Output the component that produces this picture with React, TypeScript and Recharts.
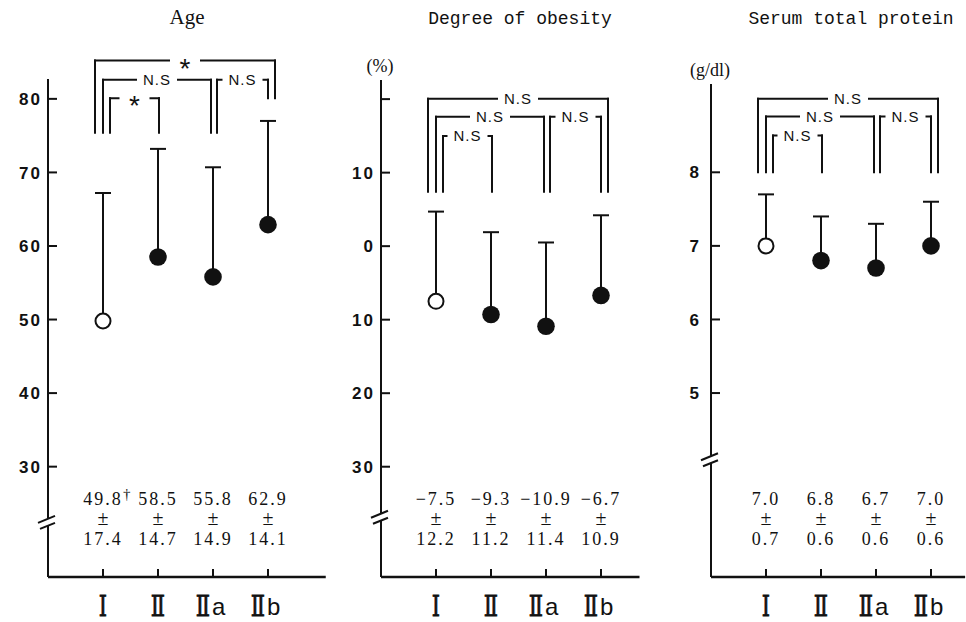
import React from "react";
import {
  ComposedChart,
  Scatter,
  ErrorBar,
  XAxis,
  YAxis,
  ReferenceLine,
  ReferenceDot,
} from "recharts";

// groups on the x axis
const groups = ["Ⅰ", "Ⅱ", "Ⅱa", "Ⅱb"];

// Age
const ageMean = [49.8, 58.5, 55.8, 62.9];
const ageSD = [17.4, 14.7, 14.9, 14.1];
const ageNotes = ["†", "", "", ""];
const ageTicks = [30, 40, 50, 60, 70, 80];
const ageTickLabels = ["30", "40", "50", "60", "70", "80"];
const ageTests = [["Ⅰ", "Ⅱb", "*"], ["Ⅰ", "Ⅱa", "N.S"], ["Ⅰ", "Ⅱ", "*"], ["Ⅱa", "Ⅱb", "N.S"]];
const ageTestTop = [85.2, 82.6, 80.1, 82.6];
const ageTestFeet = [[75.4, 80.1], [75.4, 75.4], [75.4, 75.4], [75.4, 80.1]];

// Degree of obesity (%)
const obesityMean = [-7.5, -9.3, -10.9, -6.7];
const obesitySD = [12.2, 11.2, 11.4, 10.9];
const obesityTicks = [-30, -20, -10, 0, 10, 20];
const obesityTickLabels = ["30", "20", "10", "0", "10", ""];
const obesityTests = [["Ⅰ", "Ⅱb", "N.S"], ["Ⅰ", "Ⅱa", "N.S"], ["Ⅰ", "Ⅱ", "N.S"], ["Ⅱa", "Ⅱb", "N.S"]];
const obesityTestTop = [20.05, 17.6, 15.0, 17.6];
const obesityTestFeet = [[7.4, 7.4], [7.4, 7.4], [7.4, 7.4], [7.4, 7.4]];

// Serum total protein (g/dl)
const proteinMean = [7.0, 6.8, 6.7, 7.0];
const proteinSD = [0.7, 0.6, 0.6, 0.6];
const proteinTicks = [5, 6, 7, 8];
const proteinTickLabels = ["5", "6", "7", "8"];
const proteinTests = [["Ⅰ", "Ⅱb", "N.S"], ["Ⅰ", "Ⅱa", "N.S"], ["Ⅰ", "Ⅱ", "N.S"], ["Ⅱa", "Ⅱb", "N.S"]];
const proteinTestTop = [9.0, 8.76, 8.5, 8.76];
const proteinTestFeet = [[8.0, 8.0], [8.0, 8.0], [8.0, 8.0], [8.0, 8.0]];

const INK = "#111";
const STEP = 55; // px between groups
const AXIS_Y = 577;
const H = 622;
// px shift of bracket legs so nested brackets don't overlap
const NUDGE = [[-8, 7], [0, -2], [7, 1], [4, 0]];

const fmt = (v: number) => v.toFixed(1).replace("-", "−");

function Marker(props: any) {
  const { cx, cy, payload } = props;
  if (payload.open)
    return <circle cx={cx} cy={cy} r={7.5} fill="#fff" stroke={INK} strokeWidth={2} />;
  return <circle cx={cx} cy={cy} r={8.8} fill={INK} />;
}

function BreakMark(props: any) {
  const { cx, cy } = props;
  return (
    <g stroke={INK} strokeWidth={2}>
      <line x1={cx - 10} y1={cy + 1} x2={cx + 7} y2={cy - 6} />
      <line x1={cx - 8} y1={cy + 7} x2={cx + 7} y2={cy + 1} />
    </g>
  );
}

function BracketLabel({ cx, cy, text }: any) {
  const star = text === "*";
  const w = star ? 30 : 40;
  return (
    <g>
      <rect x={cx - w / 2} y={cy - 4} width={w} height={8} fill="#fff" />
      {star ? (
        <text x={cx} y={cy + 17} textAnchor="middle" fontFamily="Liberation Sans" fontSize={28} fill={INK}>
          *
        </text>
      ) : (
        <text x={cx} y={cy} dy="0.36em" textAnchor="middle" fontFamily="Liberation Sans" fontSize={15} letterSpacing={1} fill={INK}>
          {text}
        </text>
      )}
    </g>
  );
}

type PanelProps = {
  means: number[];
  sds: number[];
  notes?: string[];
  ticks: number[];
  tickLabels: string[];
  tests: string[][];
  tops: number[];
  feet: number[][];
  domain: [number, number];
  breakAt: number;
  unit?: string;
  left: number;
  width: number;
  plotLeft: number;
  plotTop: number;
  xMax: number;
  tickGap: number;
};

function Panel(p: PanelProps) {
  const rows = p.means.map((m, i) => ({ x: i + 1, y: m, err: [0, p.sds[i]], open: i === 0 }));
  const plotH = AXIS_Y - p.plotTop;
  const pxPerUnit = plotH / (p.domain[1] - p.domain[0]);
  const gap = 3.5 / pxPerUnit;
  const plotW = p.xMax * STEP;
  const margin = {
    top: p.plotTop,
    left: p.plotLeft - 40,
    right: p.width - p.plotLeft - plotW,
    bottom: H - AXIS_Y - 30,
  };

  const XTick = (t: any) => {
    const { x, y, payload } = t;
    const i = payload.value - 1;
    const label = groups[i];
    const suffix = label.slice(1);
    const note = p.notes ? p.notes[i] : "";
    const nx = suffix ? x - 10 : x;
    return (
      <g fill={INK}>
        <line x1={x} x2={x} y1={y - 8} y2={y} stroke={INK} strokeWidth={2} />
        <text x={x} y={y - 72} textAnchor="middle" fontFamily="Liberation Serif" fontSize={18} letterSpacing={2}>
          {fmt(p.means[i])}
        </text>
        {note ? (
          <text x={x + 20} y={y - 78} fontFamily="Liberation Serif" fontSize={15}>
            {note}
          </text>
        ) : null}
        <text x={x} y={y - 52} textAnchor="middle" fontFamily="Liberation Serif" fontSize={20}>
          ±
        </text>
        <text x={x} y={y - 32} textAnchor="middle" fontFamily="Liberation Serif" fontSize={18} letterSpacing={2}>
          {p.sds[i].toFixed(1)}
        </text>
        <text
          x={nx}
          y={y + 39}
          textAnchor="middle"
          fontFamily="DejaVu Serif"
          fontSize={28}
          stroke={INK}
          strokeWidth={0.8}
          transform={`translate(${nx},0) scale(0.75,1) translate(${-nx},0)`}
        >
          {label[0]}
        </text>
        {suffix ? (
          <text x={nx + 9} y={y + 38} fontFamily="Liberation Sans" fontSize={24}>
            {suffix}
          </text>
        ) : null}
      </g>
    );
  };

  const YTick = (t: any) => {
    const { x, y, payload } = t;
    const idx = p.ticks.indexOf(payload.value);
    return (
      <g>
        <line x1={x} x2={x + 9} y1={y} y2={y} stroke={INK} strokeWidth={2} />
        <text x={x - p.tickGap + 2} y={y} dy="0.36em" textAnchor="end" fontFamily="Liberation Sans" fontWeight="bold" fontSize={17} letterSpacing={2} fill={INK}>
          {p.tickLabels[idx]}
        </text>
      </g>
    );
  };

  const UnitLabel = (l: any) => {
    const vb = l.viewBox || {};
    if (!p.unit) return null;
    return (
      <text x={vb.x + vb.width - 1} y={vb.y - 8} textAnchor="middle" fontFamily="Liberation Serif" fontSize={18} fill={INK}>
        {p.unit}
      </text>
    );
  };

  const line = { stroke: INK, strokeWidth: 2, ifOverflow: "visible" as const };

  return (
    <div style={{ position: "absolute", left: p.left, top: 0 }}>
      <ComposedChart width={p.width} height={H} margin={margin} data={rows}>
        <XAxis
          type="number"
          dataKey="x"
          domain={[0, p.xMax]}
          ticks={[1, 2, 3, 4]}
          interval={0}
          height={30}
          tickSize={0}
          tickMargin={0}
          tickLine={false}
          axisLine={{ stroke: INK, strokeWidth: 2.5 }}
          tick={XTick}
          allowDataOverflow
        />
        <YAxis
          type="number"
          dataKey="y"
          domain={p.domain}
          ticks={p.ticks}
          interval={0}
          width={40}
          tickSize={0}
          tickMargin={0}
          tickLine={false}
          axisLine={false}
          tick={YTick}
          allowDataOverflow
          label={UnitLabel}
        />
        <ReferenceLine segment={[{ x: 0, y: p.domain[0] }, { x: 0, y: p.breakAt - gap }]} {...line} />
        <ReferenceLine segment={[{ x: 0, y: p.breakAt + gap }, { x: 0, y: p.domain[1] }]} {...line} />
        <ReferenceDot x={0} y={p.breakAt} r={0} ifOverflow="visible" shape={BreakMark} />
        {p.tests.map((t, k) => {
          const xl = groups.indexOf(t[0]) + 1 + NUDGE[k][0] / STEP;
          const xr = groups.indexOf(t[1]) + 1 + NUDGE[k][1] / STEP;
          const top = p.tops[k];
          return (
            <React.Fragment key={k}>
              <ReferenceLine segment={[{ x: xl, y: p.feet[k][0] }, { x: xl, y: top }]} {...line} strokeLinecap="square" />
              <ReferenceLine segment={[{ x: xl, y: top }, { x: xr, y: top }]} {...line} strokeLinecap="square" />
              <ReferenceLine segment={[{ x: xr, y: top }, { x: xr, y: p.feet[k][1] }]} {...line} strokeLinecap="square" />
              <ReferenceDot
                x={(xl + xr) / 2}
                y={top}
                r={0}
                ifOverflow="visible"
                shape={(s: any) => <BracketLabel cx={s.cx} cy={s.cy} text={t[2]} />}
              />
            </React.Fragment>
          );
        })}
        <Scatter data={rows} shape={() => <g />} isAnimationActive={false}>
          <ErrorBar dataKey="err" direction="y" width={8} stroke={INK} strokeWidth={2} />
        </Scatter>
        <Scatter data={rows} shape={Marker} isAnimationActive={false} />
      </ComposedChart>
    </div>
  );
}

const titleStyle = (center: number, w: number, font: string, size: number, top: number): React.CSSProperties => ({
  position: "absolute",
  left: center - w / 2,
  width: w,
  top,
  textAlign: "center",
  fontFamily: font,
  fontSize: size,
  lineHeight: "20px",
  color: INK,
  whiteSpace: "nowrap",
});

export default function App() {
  return (
    <div style={{ position: "absolute", left: 0, top: 0, width: 966, height: H, background: "#fff", overflow: "hidden" }}>
      <Panel
        means={ageMean}
        sds={ageSD}
        notes={ageNotes}
        ticks={ageTicks}
        tickLabels={ageTickLabels}
        tests={ageTests}
        tops={ageTestTop}
        feet={ageTestFeet}
        domain={[15, 82.7]}
        breakAt={22.5}
        left={0}
        width={340}
        plotLeft={48}
        plotTop={79}
        xMax={5.05}
        tickGap={8}
      />
      <Panel
        means={obesityMean}
        sds={obesitySD}
        ticks={obesityTicks}
        tickLabels={obesityTickLabels}
        tests={obesityTests}
        tops={obesityTestTop}
        feet={obesityTestFeet}
        domain={[-45, 22.6]}
        breakAt={-36.8}
        unit="(%)"
        left={330}
        width={320}
        plotLeft={51}
        plotTop={80}
        xMax={4.7}
        tickGap={8}
      />
      <Panel
        means={proteinMean}
        sds={proteinSD}
        ticks={proteinTicks}
        tickLabels={proteinTickLabels}
        tests={proteinTests}
        tops={proteinTestTop}
        feet={proteinTestFeet}
        domain={[2.5, 9.2]}
        breakAt={4.1}
        unit="(g/dl)"
        left={650}
        width={316}
        plotLeft={61}
        plotTop={84}
        xMax={4.62}
        tickGap={12}
      />
      <div style={titleStyle(187, 200, "Liberation Serif", 21, 7)}>Age</div>
      <div style={titleStyle(520, 260, "Liberation Mono", 18, 9)}>Degree of obesity</div>
      <div style={titleStyle(851, 260, "Liberation Mono", 18, 9)}>Serum total protein</div>
    </div>
  );
}
